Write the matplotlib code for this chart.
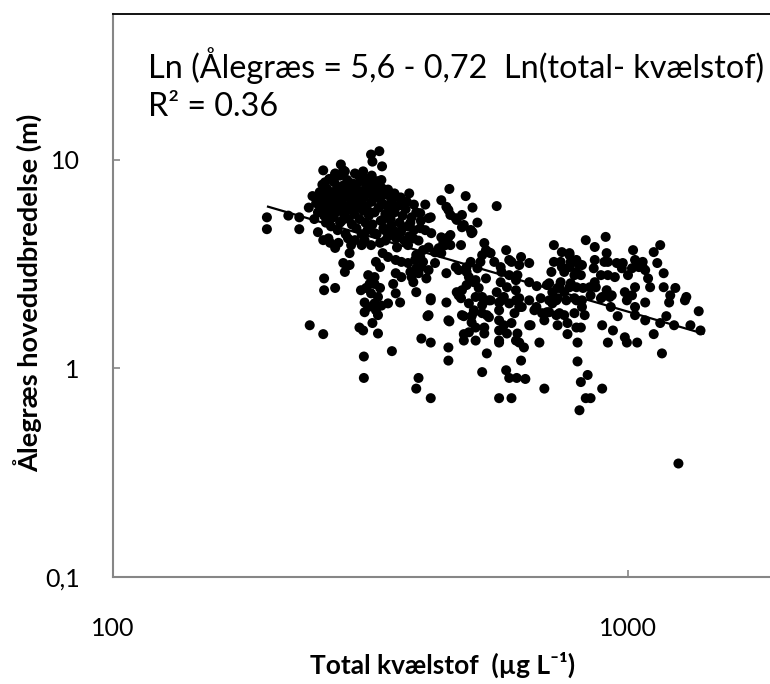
import matplotlib
matplotlib.use("Agg")
import matplotlib.pyplot as plt
import numpy as np
from matplotlib.ticker import FixedLocator, FixedFormatter, NullLocator

# ---------------- data ----------------
x_ticks = [100, 1000]
x_ticklabels = ["100", "1000"]
y_ticks = [0.1, 1, 10]
y_ticklabels = ["0,1", "1", "10"]

trend_x = [200, 1400]          # range of the fitted line
fit_a, fit_b = 5.6, -0.72      # Ln(y) = a + b Ln(x)

equation_text = "Ln (Ålegræs = 5,6 - 0,72  Ln(total- kvælstof)"
r2_text = "R² = 0.36"
x_label = "Total kvælstof  (µg L⁻¹)"
y_label = "Ålegræs hovedudbredelse (m)"

# total nitrogen (µg/L) and eelgrass depth limit (m)
pts_left = [
    (199, 5.3), (199, 4.65), (219, 5.4), (230, 5.3), (230, 4.65),
    (256, 8.9), (277, 9.5), (280, 8.9), (270, 8.5), (317, 10.6), (329, 11.0), (319, 9.8),
    (333, 9.3), (308, 8.0), (315, 8.0), (317, 7.0), (332, 6.9), (347, 6.55), (361, 6.55),
    (376, 6.9), (363, 6.1), (404, 6.1), (434, 6.4), (450, 7.25), (484, 6.7), (499, 5.9),
    (556, 6.0), (448, 5.75), (463, 5.25), (476, 4.75), (510, 5.0), (378, 5.0), (395, 5.55),
    (410, 5.25), (404, 4.6), (415, 4.45), (434, 4.25), (448, 4.25), (452, 3.9), (334, 5.15),
    (347, 4.87), (363, 4.6), (380, 4.2), (354, 4.25), (337, 4.6), (322, 4.45), (308, 4.12),
    (295, 4.12), (317, 3.9), (330, 4.0), (256, 4.12), (264, 4.0), (270, 3.78), (288, 3.57),
    (280, 3.2), (288, 3.13), (282, 2.9), (334, 3.57), (342, 3.42), (354, 3.31), (363, 3.24),
    (374, 3.2), (386, 3.31), (395, 3.42), (400, 3.69), (410, 3.8), (429, 3.77), (434, 3.57),
    (442, 3.9), (324, 3.24), (330, 3.06), (354, 2.86), (363, 2.74), (380, 2.74), (392, 2.86),
    (397, 3.06), (410, 2.96), (422, 3.2), (444, 2.86), (469, 2.96), (486, 3.06), (491, 2.74),
    (506, 2.65), (313, 2.8), (322, 2.74), (315, 2.54), (322, 2.54), (257, 2.7), (257, 2.37),
    (270, 2.43), (303, 2.37), (310, 2.43), (317, 2.29), (330, 2.43), (327, 2.2), (350, 2.54),
    (354, 2.29), (361, 2.07), (308, 2.07), (313, 1.97), (308, 1.86), (322, 2.05), (324, 1.9),
    (332, 2.0), (342, 2.05), (327, 1.8), (319, 1.65), (301, 1.57), (306, 1.52), (327, 1.47),
    (388, 2.32), (410, 1.8), (414, 2.12), (444, 2.07), (448, 1.7), (397, 1.39), (414, 1.33),
    (448, 1.26), (448, 1.09), (307, 1.14), (348, 1.21), (307, 0.9), (392, 0.9), (388, 0.8),
    (476, 2.37), (469, 2.24), (491, 2.05), (502, 1.86), (476, 1.8), (497, 1.66), (491, 1.49),
    (480, 1.36), (506, 1.36), (241, 1.61), (256, 1.46), (414, 0.72),
]
pts_mid = [
    (408, 1.78), (450, 1.68), (480, 1.78), (497, 1.78), (480, 1.46), (526, 1.57), (526, 1.47),
    (532, 1.18), (521, 0.96), (521, 2.01), (532, 1.8), (541, 2.12), (562, 2.07), (562, 1.7),
    (562, 1.52), (562, 1.33), (574, 1.61), (582, 1.47), (594, 1.65), (602, 1.84), (615, 1.97),
    (610, 1.47), (615, 1.33), (628, 1.26), (620, 1.09), (580, 0.98), (588, 0.9), (608, 0.9),
    (632, 0.89), (562, 0.72), (594, 0.72), (647, 1.61), (673, 1.33), (688, 0.8), (664, 1.97),
    (696, 1.86), (688, 1.7), (713, 2.05),
    (444, 5.95), (452, 5.44), (465, 5.15), (476, 5.44), (480, 4.87), (495, 4.61), (497, 4.45),
    (414, 5.3), (395, 4.7), (383, 4.2), (374, 3.9), (438, 4.0), (452, 4.36), (474, 3.9),
    (422, 3.6), (388, 3.5), (400, 3.24), (388, 3.02), (378, 2.9), (406, 2.7), (383, 2.59),
    (414, 2.17), (465, 2.32), (463, 3.06), (486, 2.9), (495, 3.24), (510, 3.02), (530, 3.69),
    (521, 3.49), (541, 3.57), (517, 3.24), (502, 2.59), (513, 2.43), (486, 2.51), (530, 2.7),
    (550, 3.24), (594, 3.24), (610, 2.8), (566, 2.59), (582, 2.45), (556, 2.32), (574, 2.2),
    (606, 2.37), (615, 2.17), (643, 2.59), (696, 2.51), (710, 2.9), (677, 2.17), (474, 2.17),
    (499, 4.5),
]
pts_right = [
    (726, 1.8), (752, 1.8), (787, 1.84), (824, 1.8), (730, 1.61), (763, 1.65), (794, 1.57),
    (810, 1.57), (763, 1.46), (798, 1.33), (798, 1.08), (835, 0.93), (810, 0.86), (891, 0.8),
    (828, 0.72), (846, 0.72), (805, 0.63), (891, 1.61), (935, 1.52), (914, 1.33), (986, 1.41),
    (995, 1.33), (1042, 1.33), (955, 1.78), (926, 1.97), (1032, 1.97), (1032, 1.8), (1080, 1.7),
    (1122, 1.46), (1155, 1.65), (1187, 1.78), (1229, 1.61), (1322, 1.61), (1372, 1.88),
    (1383, 1.52), (1164, 1.18), (1253, 0.35), (1202, 2.07), (1290, 2.12), (1080, 2.07),
    (995, 2.12),
    (526, 3.99), (537, 3.6), (580, 3.69), (588, 3.31), (620, 3.42), (643, 3.2), (615, 3.13),
    (566, 3.06), (568, 2.9), (588, 2.8), (606, 2.65), (665, 2.48), (703, 2.56), (718, 3.9),
    (744, 3.61), (770, 3.57), (794, 3.31), (718, 3.24), (744, 3.06), (770, 3.06), (794, 2.9),
    (814, 3.13), (828, 4.12), (862, 3.82), (905, 4.27), (909, 3.57), (862, 3.31), (914, 3.24),
    (951, 3.2), (977, 3.2), (1023, 3.69), (1032, 3.31), (1055, 3.2), (1068, 3.06), (1122, 3.61),
    (1155, 3.9), (1140, 3.2), (1094, 2.7), (1104, 2.45), (1173, 2.86), (1173, 2.45),
    (1208, 2.24), (1236, 2.43), (1298, 2.2), (922, 2.2), (891, 2.2), (866, 2.45), (843, 2.45),
    (818, 2.43), (794, 2.45), (770, 2.45), (736, 2.45), (713, 2.32), (703, 2.12), (726, 2.12),
    (759, 2.12), (794, 2.12), (814, 2.12), (814, 1.97), (736, 1.84), (703, 1.86), (681, 1.84),
    (658, 1.9), (643, 2.12), (622, 1.97), (606, 2.12), (588, 2.05), (568, 2.12), (562, 1.9),
    (537, 2.12), (521, 2.2), (506, 2.2), (502, 1.9), (521, 1.84), (537, 1.76), (506, 1.57),
    (562, 1.36), (606, 1.36), (643, 1.61),
    (900, 3.24), (1050, 3.06), (1068, 3.24), (1032, 2.45), (1018, 2.24), (986, 2.32),
    (914, 2.8), (943, 2.74), (886, 2.8), (862, 2.59), (909, 2.37), (930, 2.24), (886, 2.17),
    (770, 3.49), (740, 3.24), (774, 3.24), (798, 3.2), (752, 2.9), (787, 2.8), (810, 2.8),
    (740, 2.59), (774, 2.56), (730, 2.43), (752, 2.32), (787, 2.17), (730, 2.17),
    (1018, 3.02), (1000, 2.8), (1080, 2.96), (973, 3.02), (858, 3.02), (846, 2.24),
]
pts_core = [
    (248, 6.2), (250, 5.6), (252, 7.0), (253, 6.6), (254, 5.9), (255, 7.6), (256, 6.3),
    (257, 5.4), (258, 6.9), (259, 5.0), (260, 7.3), (261, 6.1), (262, 5.7), (263, 8.1),
    (264, 6.6), (265, 4.8), (266, 7.0), (267, 6.0), (268, 5.3), (269, 7.8), (270, 6.4),
    (271, 5.6), (272, 7.2), (273, 4.6), (274, 6.8), (275, 5.9), (276, 8.4), (277, 6.2),
    (278, 5.1), (279, 7.5), (280, 6.6), (281, 5.5), (282, 7.0), (283, 4.4), (284, 6.0),
    (285, 8.0), (286, 6.8), (287, 5.2), (288, 7.4), (289, 5.8), (290, 6.4), (291, 4.9),
    (292, 7.7), (293, 6.1), (294, 5.5), (295, 8.6), (296, 6.9), (297, 4.7), (298, 7.2),
    (299, 5.9), (300, 6.5), (301, 5.2), (302, 7.9), (303, 6.2), (304, 4.4), (305, 7.0),
    (306, 5.7), (307, 6.6), (308, 8.2), (309, 5.0), (310, 7.4), (311, 6.0), (312, 4.6),
    (313, 6.9), (314, 5.4), (316, 7.6), (318, 6.3), (319, 4.9), (320, 7.1), (322, 5.6),
    (323, 6.7), (325, 4.4), (326, 7.9), (328, 5.9), (330, 6.5), (331, 5.1), (333, 7.3),
    (335, 4.7), (336, 6.1), (338, 5.5), (340, 6.8), (342, 4.3), (344, 5.8), (346, 5.2),
    (348, 6.3), (350, 4.6), (352, 5.6), (355, 4.2), (357, 6.0), (360, 5.0), (362, 4.5),
    (365, 5.4), (368, 4.1), (370, 5.8), (373, 4.8), (376, 4.3), (380, 5.3), (384, 4.6),
    (388, 5.6), (392, 4.1), (396, 5.1), (240, 5.9), (244, 6.7), (246, 5.2), (262, 4.2),
    (270, 8.6), (286, 4.2), (300, 8.4), (258, 7.8), (282, 8.8), (294, 7.0), (306, 8.8),
    (274, 4.0), (290, 3.9), (250, 4.5), (265, 6.3), (279, 6.1), (297, 6.2), (315, 5.6),
    (289, 6.9), (276, 5.0), (263, 5.1), (318, 8.4), (324, 7.4), (332, 8.0), (342, 7.2),
    (352, 6.9), (362, 6.6), (372, 6.3), (384, 6.1), (338, 4.1), (356, 3.8), (304, 3.9),
]

points = pts_left + pts_mid + pts_right + pts_core
tn = [p[0] for p in points]
depth = [p[1] for p in points]

# ---------------- figure ----------------
FONT = ["Lato", "DejaVu Sans"]
plt.rcParams["font.family"] = FONT

W, H = 770, 684
fig = plt.figure(figsize=(W / 100, H / 100), dpi=100)
ax = fig.add_axes([113 / W, (H - 577) / H, (W - 113) / W, (577 - 14) / H])

ax.set_xscale("log")
ax.set_yscale("log")
ax.set_xlim(100, 1887)
ax.set_ylim(0.1, 50)

ax.scatter(tn, depth, s=52, c="black", edgecolors="none", zorder=3)

lx = np.geomspace(trend_x[0], trend_x[1], 50)
ly = np.exp(fit_a + fit_b * np.log(lx))
ax.plot(lx, ly, color="black", lw=1.6, zorder=4)

spine_col = "#868686"
for side in ["left", "bottom"]:
    ax.spines[side].set_color(spine_col)
    ax.spines[side].set_linewidth(1.5)
ax.spines["right"].set_visible(False)
ax.spines["top"].set_color("black")
ax.spines["top"].set_linewidth(1.3)

ax.xaxis.set_major_locator(FixedLocator(x_ticks))
ax.xaxis.set_major_formatter(FixedFormatter(x_ticklabels))
ax.xaxis.set_minor_locator(NullLocator())
ax.yaxis.set_major_locator(FixedLocator(y_ticks))
ax.yaxis.set_major_formatter(FixedFormatter(y_ticklabels))
ax.yaxis.set_minor_locator(NullLocator())

ax.tick_params(axis="both", which="major", direction="in", length=5,
               width=1.2, color=spine_col, labelsize=18, labelcolor="black")
ax.tick_params(axis="x", pad=29)
ax.tick_params(axis="y", pad=24)

ax.text(0.053, 0.908, equation_text, transform=ax.transAxes, ha="left",
        va="center", fontsize=23.3, color="black")
ax.text(0.053, 0.835, r2_text, transform=ax.transAxes, ha="left",
        va="center", fontsize=23.3, color="black")

fig.text(443 / W, (H - 665) / H, x_label, ha="center", va="center",
         fontsize=19, fontweight="bold")
fig.text(29 / W, (H - 293) / H, y_label, ha="center", va="center",
         rotation=90, fontsize=19.5, fontweight="bold")

fig.savefig("out.png", dpi=100)
